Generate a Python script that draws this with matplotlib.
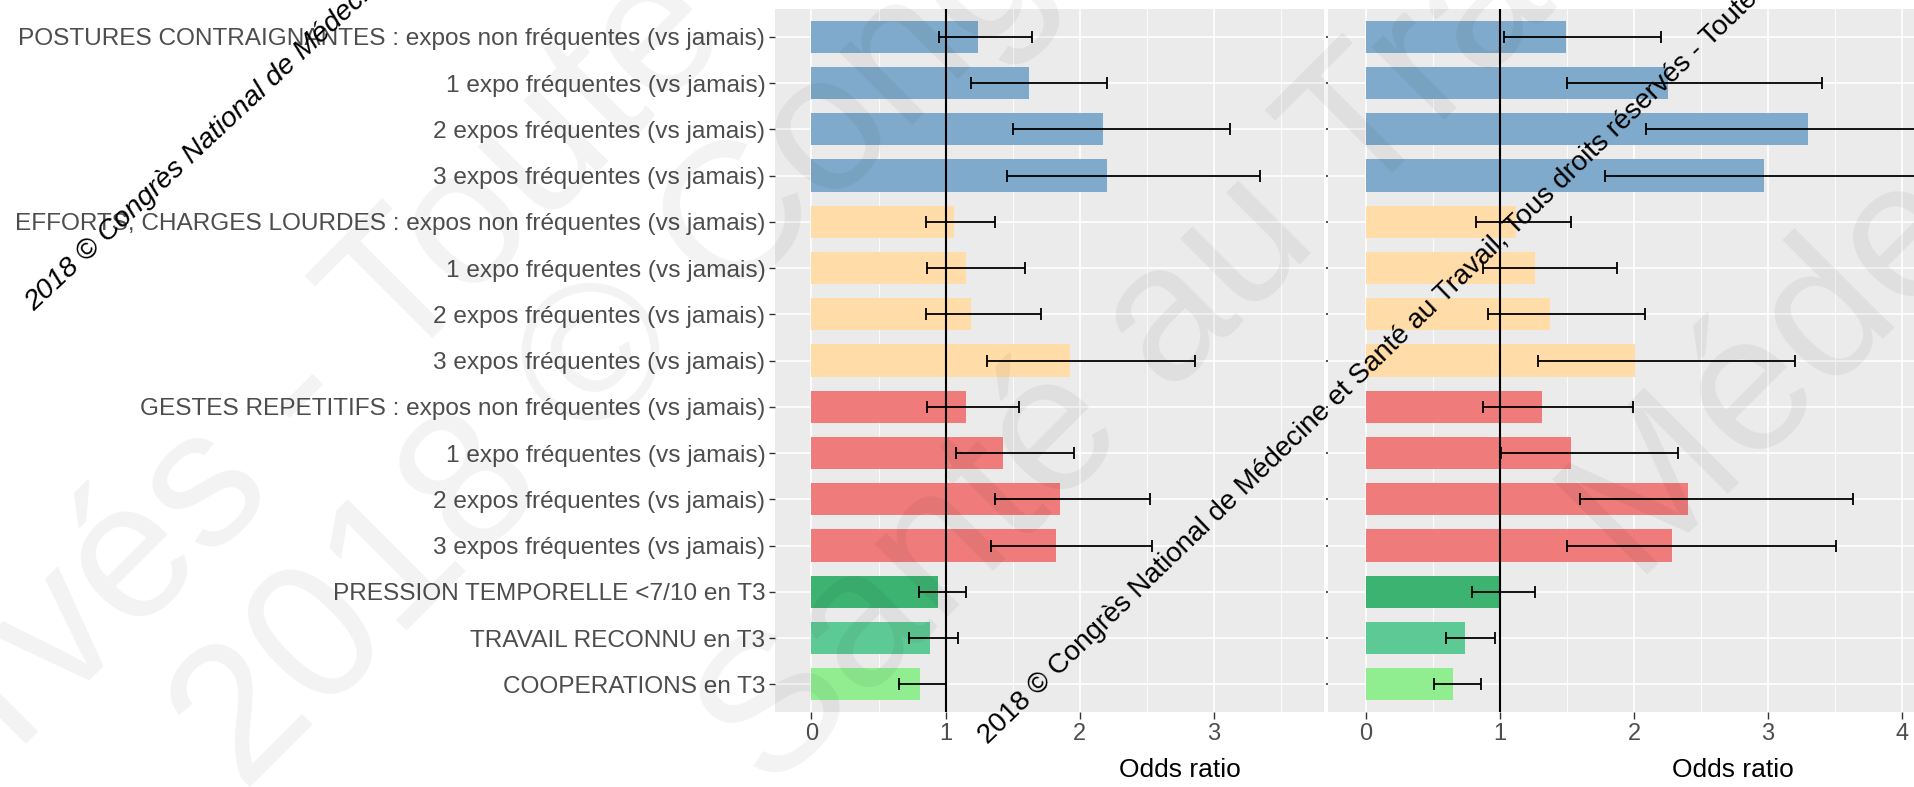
import numpy as np
import matplotlib.pyplot as plt
from matplotlib.ticker import MultipleLocator

plt.rcParams['font.family'] = ['Liberation Sans', 'DejaVu Sans']

labels = [
    "POSTURES CONTRAIGNANTES : expos non fréquentes (vs jamais)",
    "1 expo fréquentes (vs jamais)",
    "2 expos fréquentes (vs jamais)",
    "3 expos fréquentes (vs jamais)",
    "EFFORTS, CHARGES LOURDES : expos non fréquentes (vs jamais)",
    "1 expo fréquentes (vs jamais)",
    "2 expos fréquentes (vs jamais)",
    "3 expos fréquentes (vs jamais)",
    "GESTES REPETITIFS : expos non fréquentes (vs jamais)",
    "1 expo fréquentes (vs jamais)",
    "2 expos fréquentes (vs jamais)",
    "3 expos fréquentes (vs jamais)",
    "PRESSION TEMPORELLE <7/10 en T3",
    "TRAVAIL RECONNU en T3",
    "COOPERATIONS en T3",
]
colors = ['#80AACB'] * 4 + ['#FFDCA8'] * 4 + ['#EF7B7B'] * 4 + ['#3CB371', '#5DC994', '#90EE90']

# left model
or_left = [1.24, 1.62, 2.17, 2.20, 1.06, 1.15, 1.19, 1.93, 1.15, 1.43, 1.85, 1.82, 0.94, 0.88, 0.81]
lo_left = [0.95, 1.19, 1.50, 1.46, 0.85, 0.86, 0.85, 1.31, 0.86, 1.08, 1.37, 1.34, 0.80, 0.73, 0.65]
hi_left = [1.64, 2.20, 3.12, 3.34, 1.37, 1.59, 1.71, 2.86, 1.55, 1.96, 2.52, 2.54, 1.15, 1.09, 1.00]

# right model
or_right = [1.49, 2.25, 3.30, 2.97, 1.12, 1.26, 1.37, 2.01, 1.31, 1.53, 2.40, 2.28, 1.00, 0.74, 0.65]
lo_right = [1.03, 1.50, 2.09, 1.78, 0.82, 0.87, 0.91, 1.28, 0.87, 1.01, 1.60, 1.50, 0.79, 0.60, 0.51]
hi_right = [2.20, 3.40, 5.30, 4.95, 1.53, 1.87, 2.08, 3.20, 1.99, 2.33, 3.63, 3.51, 1.26, 0.96, 0.86]

W, H = 1915, 787
fig = plt.figure(figsize=(W / 100, H / 100), dpi=100)


def px_axes(x0, x1, y0, y1):
    return fig.add_axes([x0 / W, 1 - y1 / H, (x1 - x0) / W, (y1 - y0) / H])


def draw_panel(ax, ors, los, his, xlim):
    y = np.arange(len(labels))
    ax.set_facecolor('#EBEBEB')
    ax.barh(y, ors, height=0.7, color=colors, zorder=2)
    ax.errorbar(ors, y, xerr=[np.array(ors) - np.array(los), np.array(his) - np.array(ors)],
                fmt='none', ecolor='black', elinewidth=1.3, capsize=4, capthick=1.3, zorder=3)
    ax.axvline(1, color='black', lw=1.5, zorder=4)
    ax.set_xlim(*xlim)
    ax.set_ylim(len(labels) - 0.4, -0.6)
    ax.set_yticks(y)
    ax.xaxis.set_major_locator(MultipleLocator(1))
    ax.xaxis.set_minor_locator(MultipleLocator(0.5))
    ax.grid(True, which='major', color='white', lw=1.2, zorder=0)
    ax.grid(True, which='minor', axis='x', color='white', lw=0.6, zorder=0)
    ax.set_axisbelow(True)
    for s in ax.spines.values():
        s.set_visible(False)
    ax.tick_params(axis='x', which='major', length=5, width=1, color='#333333',
                   labelsize=17, labelcolor='#4D4D4D', pad=3)
    ax.tick_params(axis='x', which='minor', length=0)
    ax.set_xlabel('Odds ratio', fontsize=19)


ax1 = px_axes(775, 1324, 9, 712)
draw_panel(ax1, or_left, lo_left, hi_left, (-0.272, 3.82))
ax1.set_yticklabels(labels)
ax1.tick_params(axis='y', length=4, width=1, color='#333333', labelsize=17.6,
                labelcolor='#4D4D4D', pad=3)
ax1.xaxis.set_label_coords((1180 - 775) / (1324 - 775), -0.066)

ax2 = px_axes(1328, 2138, 9, 712)
draw_panel(ax2, or_right, lo_right, hi_right, (-0.284, 5.76))
ax2.set_yticklabels([''] * len(labels))
ax2.tick_params(axis='y', length=1.5, width=1.2, color='#333333')
ax2.xaxis.set_label_coords((1733 - 1328) / (2138 - 1328), -0.066)

# copyright watermarks
note = "2018 © Congrès National de Médecine et Santé au Travail, Tous droits réservés - Toute reproduction interdite"
fig.text(34 / W, 1 - 312 / H, note, rotation=43, rotation_mode='anchor', ha='left', va='baseline',
         fontsize=20.5, style='italic', color='black', zorder=10)
fig.text(988 / W, 1 - 745 / H, note, rotation=44, rotation_mode='anchor', ha='left', va='baseline',
         fontsize=20, color='black', zorder=10)

faint = [
    ((733, 37), 'right', "Tous droits réservés - Toute"),
    ((244, 794), 'left', "2018 © Congrès National de Médecine"),
    ((770, 794), 'left', "Santé au Travail, Tous droits"),
    ((1637, 586), 'left', "Médecine et Santé"),
]
for (x, y), ha, s in faint:
    fig.text(x / W, 1 - y / H, s, rotation=45, rotation_mode='anchor', ha=ha, va='baseline',
             fontsize=140, color='black', alpha=0.05, zorder=9)

fig.savefig('out.png', dpi=100)
